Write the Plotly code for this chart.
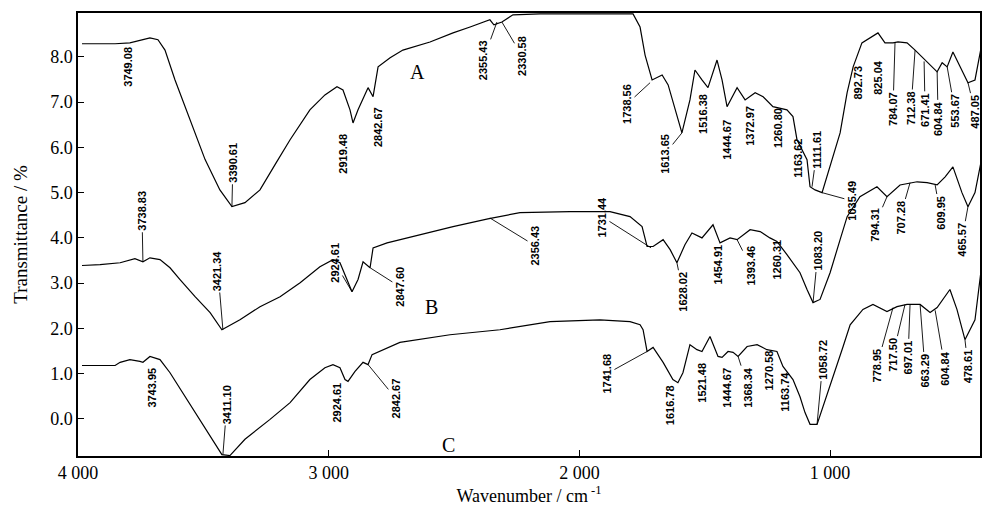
import plotly.graph_objects as go

# ---------------- data ----------------
a_wn = [3984, 3852, 3793, 3733, 3713, 3681, 3653, 3613, 3553, 3493, 3434, 3386, 3334, 3274, 3214,
        3154, 3075, 3015, 2967, 2943, 2915, 2903, 2883, 2843, 2823, 2803, 2755, 2704, 2596, 2504,
        2436, 2396, 2357, 2341, 2309, 2265, 2157, 1918, 1786, 1758, 1738, 1710, 1670, 1646, 1619,
        1591, 1559, 1539, 1511, 1487, 1451, 1431, 1411, 1371, 1339, 1299, 1267, 1228, 1172, 1148,
        1132, 1092, 1080, 1060, 1032, 1000, 960, 932, 908, 873, 841, 809, 781, 749, 729, 693, 661,
        629, 601, 573, 553, 533, 510, 474, 450, 422, 394]
a_t = [8.29, 8.29, 8.31, 8.38, 8.42, 8.38, 8.15, 7.49, 6.61, 5.73, 5.06, 4.69, 4.78, 5.06, 5.62,
       6.17, 6.83, 7.16, 7.34, 7.27, 6.83, 6.54, 6.83, 7.32, 7.12, 7.78, 7.98, 8.15, 8.33, 8.53,
       8.66, 8.75, 8.82, 8.71, 8.77, 8.93, 8.95, 8.95, 8.95, 8.66, 8.04, 7.49, 7.60, 7.38, 6.83,
       6.32, 7.05, 7.71, 7.49, 7.32, 7.93, 7.49, 6.90, 7.32, 7.05, 7.21, 7.12, 6.90, 6.83, 6.68,
       6.17, 5.73, 5.13, 5.06, 5.00, 5.57, 6.32, 7.21, 7.78, 8.31, 8.42, 8.53, 8.31, 8.31, 8.33,
       8.31, 8.15, 7.98, 7.82, 7.67, 7.87, 7.78, 8.11, 7.71, 7.43, 7.49, 8.31]

b_wn = [3984, 3912, 3832, 3773, 3741, 3713, 3673, 3633, 3593, 3533, 3473, 3426, 3354, 3274, 3194,
        3114, 3035, 2983, 2955, 2935, 2907, 2883, 2863, 2835, 2823, 2767, 2636, 2504, 2365, 2237,
        2037, 1878, 1798, 1750, 1730, 1706, 1666, 1638, 1611, 1579, 1551, 1511, 1467, 1439, 1399,
        1371, 1319, 1279, 1240, 1212, 1172, 1120, 1092, 1068, 1040, 1000, 960, 932, 881, 813, 773,
        721, 653, 613, 573, 541, 510, 474, 450, 422, 394]
b_t = [3.39, 3.41, 3.45, 3.54, 3.47, 3.56, 3.52, 3.34, 3.08, 2.70, 2.35, 1.97, 2.19, 2.48, 2.70,
       3.01, 3.36, 3.52, 3.45, 3.19, 2.81, 3.08, 3.47, 3.34, 3.78, 3.89, 4.07, 4.25, 4.42, 4.56,
       4.58, 4.58, 4.47, 4.25, 3.81, 3.81, 3.96, 3.74, 3.45, 3.85, 4.11, 4.00, 4.29, 3.89, 4.00,
       3.96, 4.18, 4.14, 4.00, 3.92, 3.63, 3.23, 2.86, 2.57, 2.64, 3.23, 3.96, 4.47, 4.91, 5.13, 4.91,
       5.17, 5.24, 5.22, 5.17, 5.35, 5.57, 5.00, 4.69, 5.00, 5.79]

c_wn = [3984, 3852, 3832, 3793, 3753, 3741, 3713, 3673, 3633, 3573, 3513, 3473, 3426, 3394, 3334,
        3234, 3154, 3075, 3015, 2983, 2955, 2935, 2923, 2895, 2863, 2843, 2827, 2716, 2516, 2317,
        2117, 1918, 1798, 1758, 1746, 1730, 1706, 1666, 1627, 1607, 1587, 1559, 1531, 1511, 1479,
        1447, 1431, 1407, 1387, 1367, 1331, 1291, 1252, 1212, 1188, 1148, 1120, 1100, 1080, 1052,
        1028, 1000, 972, 948, 920, 869, 829, 773, 733, 693, 641, 601, 573, 522, 494, 462, 422, 394]
c_t = [1.18, 1.18, 1.25, 1.31, 1.27, 1.25, 1.38, 1.31, 1.02, 0.49, -0.01, -0.39, -0.79, -0.81, -0.45,
       -0.01, 0.36, 0.87, 1.13, 1.20, 1.13, 0.87, 0.83, 1.05, 1.25, 1.20, 1.42, 1.69, 1.86, 1.97,
       2.15, 2.19, 2.15, 2.08, 1.97, 1.49, 1.58, 1.25, 0.87, 0.80, 1.02, 1.64, 1.53, 1.49, 1.82,
       1.38, 1.36, 1.49, 1.47, 1.38, 1.60, 1.64, 1.53, 1.49, 1.16, 0.87, 0.49, 0.14, -0.12, -0.12,
       0.27, 0.72, 1.16, 1.60, 2.08, 2.42, 2.53, 2.37, 2.48, 2.53, 2.53, 2.35, 2.46, 2.86, 2.42, 1.75,
       2.19, 3.45]

x_tickvals = [4000, 3000, 2000, 1000]
x_ticktext = ["4 000", "3 000", "2 000", "1 000"]
y_tickvals = [0, 1, 2, 3, 4, 5, 6, 7, 8]
y_ticktext = ["0.0", "1.0", "2.0", "3.0", "4.0", "5.0", "6.0", "7.0", "8.0"]

series_names = ["A", "B", "C"]

# peak labels: text, label position (wn, T), leader tip (wn, T) or None
peak_labels = [
    # curve A
    ("3749.08", 3801, 7.78, None),
    ("3390.61", 3382, 5.66, (3386, 4.69)),
    ("2919.48", 2943, 5.86, None),
    ("2842.67", 2803, 6.45, None),
    ("2355.43", 2384, 7.93, (2329, 8.77)),
    ("2330.58", 2229, 8.02, (2309, 8.77)),
    ("1738.56", 1810, 6.96, (1718, 7.43)),
    ("1613.65", 1658, 5.86, (1591, 6.32)),
    ("1516.38", 1507, 6.74, None),
    ("1444.67", 1411, 6.17, None),
    ("1372.97", 1319, 6.48, None),
    ("1260.80", 1208, 6.43, None),
    ("1163.62", 1128, 5.75, None),
    ("1111.61", 1052, 5.95, (1072, 5.13)),
    ("892.73", 889, 7.43, None),
    ("825.04", 809, 7.56, None),
    ("784.07", 749, 6.85, (741, 8.31)),
    ("712.38", 677, 6.87, (661, 8.15)),
    ("671.41", 621, 6.83, (625, 7.90)),
    ("604.84", 569, 6.63, (573, 7.67)),
    ("553.67", 502, 6.81, (533, 7.78)),
    ("487.05", 422, 6.79, (450, 7.43)),
    ("1035.49", 913, 4.82, (1032, 5.00)),
    # curve B
    ("3738.83", 3745, 4.60, (3741, 3.47)),
    ("3421.34", 3442, 3.28, (3422, 1.97)),
    ("2924.61", 2975, 3.45, (2907, 2.81)),
    ("2847.60", 2716, 2.92, (2835, 3.34)),
    ("2356.43", 2177, 3.83, (2357, 4.44)),
    ("1731.44", 1910, 4.47, (1714, 3.78)),
    ("1628.02", 1587, 2.81, (1611, 3.45)),
    ("1454.91", 1447, 3.41, None),
    ("1393.46", 1319, 3.39, (1371, 3.96)),
    ("1260.31", 1212, 3.52, None),
    ("1083.20", 1048, 3.72, (1068, 2.57)),
    ("794.31", 821, 4.29, (773, 4.91)),
    ("707.28", 721, 4.45, (681, 5.22)),
    ("609.95", 561, 4.56, (581, 5.17)),
    ("465.57", 474, 3.96, (450, 4.69)),
    # curve C
    ("3743.95", 3705, 0.69, None),
    ("3411.10", 3406, 0.32, (3422, -0.79)),
    ("2924.61", 2967, 0.36, None),
    ("2842.67", 2732, 0.45, (2843, 1.20)),
    ("1741.68", 1890, 1.00, (1730, 1.49)),
    ("1616.78", 1639, 0.30, None),
    ("1521.48", 1511, 0.80, None),
    ("1444.67", 1411, 0.69, None),
    ("1368.34", 1327, 0.69, (1367, 1.38)),
    ("1270.58", 1240, 1.07, None),
    ("1163.74", 1180, 0.60, None),
    ("1058.72", 1028, 1.31, (1052, -0.12)),
    ("778.95", 813, 1.18, (749, 2.46)),
    ("717.50", 749, 1.42, (701, 2.53)),
    ("697.01", 689, 1.36, (681, 2.53)),
    ("663.29", 621, 1.07, (641, 2.53)),
    ("604.84", 541, 1.11, (581, 2.40)),
    ("478.61", 450, 1.16, (462, 1.75)),
]

curve_letters = [("A", 2644, 7.67), ("B", 2588, 2.48), ("C", 2524, -0.57)]

# ---------------- figure ----------------
fig = go.Figure()
for name, xs, ys in zip(series_names, [a_wn, b_wn, c_wn], [a_t, b_t, c_t]):
    fig.add_trace(go.Scatter(x=xs, y=ys, mode="lines", name=name,
                             line=dict(color="black", width=1.2), showlegend=False))

annotations = []
for text, lx, ly, tip in peak_labels:
    common = dict(text=text, textangle=-90,
                  font=dict(family="Liberation Sans", size=11, color="black", weight="bold"),
                  xref="x", yref="y")
    if tip is None:
        annotations.append(dict(x=lx, y=ly, showarrow=False, **common))
    else:
        annotations.append(dict(x=tip[0], y=tip[1], ax=lx, ay=ly, axref="x", ayref="y",
                                showarrow=True, arrowhead=0, arrowwidth=0.9,
                                arrowcolor="black", standoff=0, **common))

for letter, lx, ly in curve_letters:
    annotations.append(dict(x=lx, y=ly, text=letter, showarrow=False, xref="x", yref="y",
                            font=dict(family="Liberation Serif", size=20, color="black")))

fig.update_layout(
    width=983, height=513,
    margin=dict(l=78, r=3, t=13, b=57, autoexpand=False),
    paper_bgcolor="white", plot_bgcolor="white",
    font=dict(family="Liberation Serif", size=18, color="black"),
    annotations=annotations,
    xaxis=dict(range=[4000, 402], tickvals=x_tickvals, ticktext=x_ticktext,
               ticks="inside", ticklen=6, tickwidth=1.2, tickcolor="black",
               showline=True, linecolor="black", linewidth=1.5, mirror=True,
               showgrid=False, zeroline=False, automargin=False,
               title=dict(text="Wavenumber / cm<sup> -1</sup>", standoff=2,
                          font=dict(size=18)),
               tickfont=dict(size=18)),
    yaxis=dict(range=[-0.82, 8.97], tickvals=y_tickvals, ticktext=y_ticktext,
               ticks="inside", ticklen=6, tickwidth=1.2, tickcolor="black",
               showline=True, linecolor="black", linewidth=1.5, mirror=True,
               showgrid=False, zeroline=False, automargin=False,
               title=dict(text="Transmittance / %", standoff=18, font=dict(size=19)),
               tickfont=dict(size=18)),
)

fig.write_html("out.html", config={"displayModeBar": False},
               post_script="document.body.style.margin='0';")
